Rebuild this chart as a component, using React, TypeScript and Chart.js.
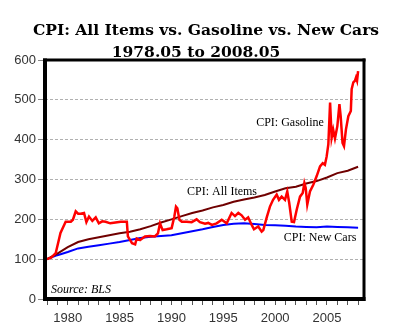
import React, { useEffect, useRef } from "react";
import { Chart, registerables } from "chart.js";

Chart.register(...registerables);

const titleLines = ["CPI: All Items vs. Gasoline vs. New Cars", "1978.05 to 2008.05"];
const yTicks = [0, 100, 200, 300, 400, 500, 600];
const xLabelYears = [1980, 1985, 1990, 1995, 2000, 2005];

const gasYears = [
  1978.0, 1978.4, 1978.84, 1979.3, 1979.8, 1980.3, 1980.5, 1980.77, 1981.0, 1981.25, 1981.57, 1981.8,
  1982.05, 1982.37, 1982.7, 1983.0, 1983.33, 1983.65, 1984.1, 1984.6, 1985.1, 1985.7, 1985.8, 1986.2,
  1986.5, 1986.65, 1986.97, 1987.45, 1987.93, 1988.4, 1988.7, 1988.9, 1989.15, 1989.54, 1990.02, 1990.28,
  1990.44, 1990.57, 1990.77, 1991.0, 1991.47, 1991.95, 1992.43, 1992.75, 1993.24, 1993.55, 1993.9, 1994.36,
  1994.85, 1995.33, 1995.8, 1996.13, 1996.45, 1996.77, 1997.1, 1997.4, 1997.74, 1997.96, 1998.37, 1998.7,
  1998.86, 1999.19, 1999.5, 1999.8, 2000.15, 2000.37, 2000.63, 2000.95, 2001.17, 2001.36, 2001.6, 2001.82,
  2002.08, 2002.4, 2002.66, 2002.82, 2002.95, 2003.1, 2003.36, 2003.68, 2004.0, 2004.33, 2004.59, 2004.8,
  2004.97, 2005.13, 2005.3, 2005.45, 2005.6, 2005.77, 2006.0, 2006.2, 2006.32, 2006.5, 2006.64, 2006.83,
  2007.06, 2007.3, 2007.38, 2007.54, 2007.7, 2007.8, 2007.9, 2008.0,
];
const gasValues = [
  100, 104, 115, 166, 194, 194, 199, 220, 214, 214, 216, 193,
  207, 196, 205, 190, 195, 194, 190, 192, 194, 194, 157, 140,
  137, 152, 148, 157, 158, 157, 165, 190, 173, 175, 178, 207,
  232, 228, 199, 194, 194, 193, 200, 193, 189, 191, 186, 190,
  199, 190, 216, 208, 216, 210, 199, 205, 186, 175, 182, 169,
  173, 205, 232, 249, 262, 249, 257, 249, 270, 241, 194, 193,
  224, 257, 266, 291, 279, 237, 270, 287, 308, 333, 341, 337,
  358, 388, 493, 405, 425, 403, 434, 489, 459, 392, 384, 426,
  459, 472, 527, 544, 548, 556, 548, 572,
];

const allYears = [
  1978, 1979, 1980, 1981, 1982, 1983, 1984, 1985, 1986, 1987, 1988, 1989, 1990, 1991, 1992, 1993,
  1994, 1995, 1996, 1997, 1998, 1999, 2000, 2001, 2002, 2003, 2004, 2005, 2006, 2007, 2008,
];
const allValues = [
  100, 114, 130, 143, 150, 155, 160, 165, 169, 175, 183, 192, 200, 208, 216, 222,
  230, 236, 244, 250, 255, 261, 270, 278, 282, 290, 296, 305, 316, 322, 332,
];

const carYears = [
  1978, 1979, 1980, 1981, 1982, 1983, 1984, 1985, 1986, 1987, 1988, 1989, 1990, 1991, 1992, 1993,
  1994, 1995, 1996, 1997, 1998, 1999, 2000, 2001, 2002, 2003, 2004, 2005, 2006, 2007, 2008,
];
const carValues = [
  100, 110, 118, 127, 131, 135, 139, 143, 148, 153, 156, 158, 160, 165, 170, 175,
  181, 186, 189, 190, 188, 186, 185, 184, 182, 181, 180, 182, 181, 180, 179,
];

const annotations = [
  { text: "CPI: Gasoline", x: 2001.43, y: 441, align: "center", font: "12px 'Liberation Serif'" },
  { text: "CPI: All Items", x: 1994.88, y: 269, align: "center", font: "12px 'Liberation Serif'" },
  { text: "CPI: New Cars", x: 2004.33, y: 153, align: "center", font: "12px 'Liberation Serif'" },
  { text: "Source: BLS", x: 1978.39, y: 22, align: "left", font: "italic 12px 'Liberation Serif'" },
];

const toPoints = (xs: number[], ys: number[]) => xs.map((x, i) => ({ x, y: ys[i] }));

const overlayPlugin = {
  id: "overlay",
  afterDatasetsDraw(chart: any) {
    const { ctx, chartArea, scales } = chart;
    ctx.save();
    ctx.fillStyle = "#000";
    ctx.textBaseline = "middle";
    for (const a of annotations) {
      ctx.font = a.font;
      ctx.textAlign = a.align;
      ctx.fillText(a.text, scales.x.getPixelForValue(a.x), scales.y.getPixelForValue(a.y));
    }
    const { left, right, top, bottom } = chartArea;
    ctx.fillStyle = "#000";
    ctx.fillRect(left - 2, top - 1.5, right - left + 3.5, 3);
    ctx.fillRect(left - 2, top - 1.5, 4, bottom - top + 3.5);
    ctx.fillRect(left - 2, bottom - 2, right - left + 3.5, 4);
    ctx.fillRect(right - 1.5, top - 1.5, 3, bottom - top + 3.5);
    ctx.font = "bold 15.5px 'DejaVu Serif'";
    ctx.textAlign = "center";
    ctx.textBaseline = "alphabetic";
    ctx.fillText(titleLines[0], 206, 35);
    ctx.fillText(titleLines[1], 196, 57);
    ctx.restore();
  },
};

export default function App() {
  const ref = useRef<HTMLCanvasElement>(null);
  useEffect(() => {
    document.body.style.margin = "0";
    const chart = new Chart(ref.current!, {
      type: "line",
      data: {
        datasets: [
          {
            label: "CPI: Gasoline",
            data: toPoints(gasYears, gasValues),
            borderColor: "#ff0000",
            borderWidth: 2.5,
            pointRadius: 0,
            tension: 0,
          },
          {
            label: "CPI: All Items",
            data: toPoints(allYears, allValues),
            borderColor: "#700000",
            borderWidth: 2,
            pointRadius: 0,
            tension: 0,
          },
          {
            label: "CPI: New Cars",
            data: toPoints(carYears, carValues),
            borderColor: "#0000ff",
            borderWidth: 2,
            pointRadius: 0,
            tension: 0,
          },
        ],
      },
      options: {
        responsive: false,
        animation: false,
        layout: { padding: { left: 0, right: 36, top: 60, bottom: 0 } },
        plugins: { legend: { display: false }, title: { display: false }, tooltip: { enabled: false } },
        scales: {
          x: {
            type: "linear",
            min: 1977.807,
            max: 2008.57,
            afterFit: (s: any) => {
              s.height = 33;
            },
            ticks: {
              stepSize: 1,
              includeBounds: false,
              autoSkip: false,
              maxRotation: 0,
              padding: 6,
              color: "#333",
              font: { family: "'Liberation Sans'", size: 13 },
              callback: (v: any) => (xLabelYears.includes(Number(v)) ? String(v) : ""),
            },
            grid: { drawOnChartArea: false, drawTicks: true, tickLength: 6, tickColor: "#555", color: "#555" },
            border: { display: false },
          },
          y: {
            min: yTicks[0],
            max: yTicks[yTicks.length - 1],
            afterFit: (s: any) => {
              s.width = 45;
            },
            afterBuildTicks: (s: any) => {
              s.ticks = yTicks.map((v) => ({ value: v }));
            },
            ticks: {
              padding: 2,
              color: "#333",
              font: { family: "'Liberation Sans'", size: 13 },
            },
            grid: { color: "#b0b0b0", tickColor: "#888", tickLength: 7, lineWidth: 1 },
            border: { display: false, dash: [3, 2] },
          },
        },
      },
      plugins: [overlayPlugin],
    });
    return () => chart.destroy();
  }, []);
  return (
    <div style={{ position: "absolute", left: 0, top: 0, width: 400, height: 332, background: "#fff" }}>
      <canvas ref={ref} width={400} height={332} />
    </div>
  );
}
